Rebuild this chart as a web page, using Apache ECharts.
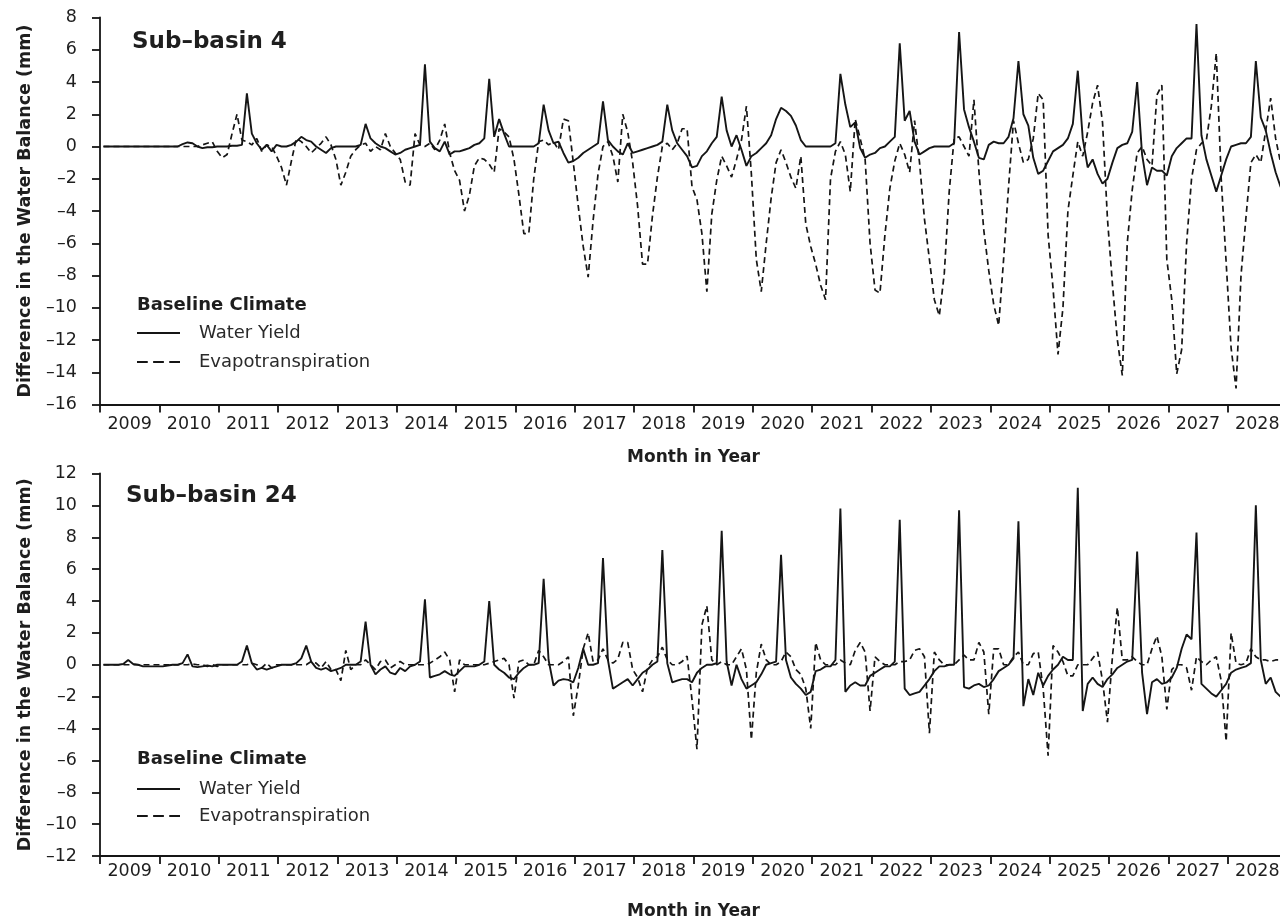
<!DOCTYPE html>
<html>
<head>
<meta charset="utf-8">
<script src="https://cdn.jsdelivr.net/npm/echarts@6.0.0/dist/echarts.min.js"></script>
<style>
    html, body { margin: 0; padding: 0; background: #fff; width: 1280px; height: 921px; overflow: hidden; }
    /* the plot runs a few pixels past the right edge, as in the source figure */
    #chart { width: 1296px; height: 921px; }
</style>
</head>
<body>
<div id="chart"></div>
<script>
// year labels on the x axis, one band of 12 months per year
const yearLabels = ['2009', '2010', '2011', '2012', '2013', '2014', '2015', '2016', '2017', '2018',
    '2019', '2020', '2021', '2022', '2023', '2024', '2025', '2026', '2027', '2028'];

// Sub-basin 4, monthly difference (mm), one row per year
const sb4WaterYield = [
    0, 0, 0, 0, 0, 0, 0, 0, 0, 0, 0, 0,
    0, 0, 0, 0, 0.15, 0.25, 0.2, 0, -0.1, -0.05, -0.05, 0,
    0, 0, 0.05, 0.05, 0.1, 3.3, 0.8, 0.2, -0.2, 0.1, -0.3, 0.1,
    0, 0, 0.1, 0.3, 0.6, 0.4, 0.3, 0, -0.2, -0.4, -0.1, 0,
    0, 0, 0, 0, 0.1, 1.4, 0.5, 0.2, 0, -0.1, -0.3, -0.5,
    -0.4, -0.2, -0.1, 0, 0.1, 5.1, 0.3, -0.1, -0.3, 0.3, -0.5, -0.3,
    -0.3, -0.2, -0.1, 0.1, 0.2, 0.5, 4.2, 0.6, 1.7, 0.8, 0, 0,
    0, 0, 0, 0, 0.2, 2.6, 1.0, 0.2, 0.3, -0.4, -1.0, -0.9,
    -0.7, -0.4, -0.2, 0, 0.2, 2.8, 0.4, 0, -0.3, -0.5, 0.2, -0.4,
    -0.3, -0.2, -0.1, 0, 0.1, 0.3, 2.6, 1.0, 0.2, -0.2, -0.6, -1.3,
    -1.2, -0.6, -0.3, 0.2, 0.6, 3.1, 1.0, 0, 0.7, -0.2, -1.2, -0.6,
    -0.4, -0.1, 0.2, 0.7, 1.7, 2.4, 2.2, 1.9, 1.3, 0.4, 0, 0,
    0, 0, 0, 0, 0.2, 4.5, 2.6, 1.2, 1.5, -0.1, -0.7, -0.5,
    -0.4, -0.1, 0, 0.3, 0.6, 6.4, 1.6, 2.2, 0.3, -0.5, -0.3, -0.1,
    0, 0, 0, 0, 0.2, 7.1, 2.3, 1.2, 0.3, -0.7, -0.8, 0.1,
    0.3, 0.2, 0.2, 0.6, 1.75, 5.3, 2.0, 1.3, -0.7, -1.7, -1.5, -0.9,
    -0.3, -0.1, 0.1, 0.5, 1.4, 4.7, 0.5, -1.3, -0.8, -1.7, -2.3, -2.0,
    -1.0, -0.1, 0.1, 0.2, 0.9, 4.0, -0.5, -2.4, -1.3, -1.5, -1.5, -1.8,
    -0.6, -0.1, 0.2, 0.5, 0.5, 7.6, 0.7, -0.8, -1.8, -2.8, -1.8, -0.8,
    0, 0.1, 0.2, 0.2, 0.6, 5.3, 1.8, 1.0, -0.4, -1.6, -2.5, -2.8
];
const sb4Evapo = [
    0, 0, 0, 0, 0, 0, 0, 0, 0, 0, 0, 0,
    0, 0, 0, 0, 0, 0, 0, 0, 0.1, 0.2, 0.3, -0.3,
    -0.7, -0.5, 0.8, 2.0, 0.4, 0.3, 0.1, 0.5, -0.3, 0.1, 0, -0.6,
    -1.3, -2.4, -0.9, 0.5, 0.3, 0, -0.4, -0.1, 0.2, 0.6, 0.1, -0.8,
    -2.4, -1.6, -0.6, -0.2, 0.1, 0.2, -0.3, 0, -0.2, 0.8, 0, -0.4,
    -0.8, -2.2, -2.4, 0.8, 0.1, 0, 0.2, -0.2, 0.4, 1.4, -0.4, -1.5,
    -2.1, -4.0, -3.0, -1.2, -0.7, -0.8, -1.1, -1.6, 1.1, 0.9, 0.6, -0.8,
    -3.0, -5.4, -5.4, -2.0, 0.3, 0.4, 0.1, 0.3, -0.2, 1.7, 1.6, -1.0,
    -3.7, -6.2, -8.1, -4.6, -1.7, 0, 0.3, -0.6, -2.2, 2.0, 0.9, -1.0,
    -3.7, -7.3, -7.3, -4.3, -1.9, 0, 0.2, -0.2, 0.2, 1.1, 1.1, -2.5,
    -3.3, -5.4, -9.0, -4.2, -2.1, -0.6, -1.2, -1.9, -0.8, 0.4, 2.5, -1.7,
    -7.0, -9.0, -6.0, -3.2, -1.0, -0.2, -1.0, -1.9, -2.6, -0.6, -4.8, -6.2,
    -7.3, -8.6, -9.5, -2.0, -0.3, 0.3, -0.5, -2.8, 1.7, 0.5, -0.8, -6.0,
    -8.9, -9.1, -5.5, -2.6, -0.9, 0.2, -0.5, -1.6, 1.6, -1.0, -4.5, -7.0,
    -9.5, -10.5, -7.9, -2.8, 0.5, 0.6, 0, -0.6, 2.9, -1.5, -5.2, -7.7,
    -9.8, -11.1, -7.0, -2.5, 1.6, 0.2, -1.0, -0.8, 0.5, 3.3, 2.9, -5.5,
    -8.8, -12.9, -10.0, -4.0, -1.8, 0.3, -0.6, 0.9, 2.7, 3.8, 1.5, -4.5,
    -8.5, -12.0, -14.2, -6.0, -2.7, -0.4, 0, -0.8, -1.2, 3.2, 3.8, -7.0,
    -9.5, -14.1, -12.6, -6.0, -2.0, -0.2, 0.2, 0.4, 2.5, 5.8, -2.0, -7.2,
    -12.5, -15.0, -8.0, -4.4, -1.0, -0.5, -1.0, 1.0, 3.0, 0.5, -1.0, -1.0
];

// Sub-basin 24, monthly difference (mm), one row per year
const sb24WaterYield = [
    0, 0, 0, 0, 0.05, 0.3, 0.05, 0, -0.1, -0.1, -0.1, -0.1,
    -0.1, -0.05, 0, 0, 0.1, 0.65, -0.1, -0.15, -0.1, -0.05, -0.1, 0,
    0, 0, 0, 0, 0.2, 1.2, 0.1, -0.3, -0.2, -0.3, -0.2, -0.1,
    0, 0, 0, 0.1, 0.4, 1.2, 0.2, -0.2, -0.3, -0.2, -0.4, -0.3,
    -0.2, 0, 0, 0, 0.2, 2.7, 0, -0.6, -0.3, -0.1, -0.5, -0.6,
    -0.2, -0.4, -0.1, 0, 0.2, 4.1, -0.8, -0.7, -0.6, -0.4, -0.6, -0.7,
    -0.4, -0.1, -0.1, -0.1, 0, 0.2, 4.0, 0, -0.3, -0.5, -0.8, -0.9,
    -0.5, -0.2, 0, 0, 0.1, 5.4, 0.3, -1.3, -1.0, -0.9, -0.95, -1.1,
    -0.2, 1.0, 0, 0, 0.1, 6.7, 0.3, -1.5, -1.3, -1.1, -0.9, -1.3,
    -0.9, -0.5, -0.3, 0, 0.2, 7.2, 0.1, -1.1, -1.0, -0.9, -0.9, -1.1,
    -0.5, -0.2, 0, 0, 0.1, 8.4, 0.2, -1.3, 0, -0.9, -1.5, -1.3,
    -1.1, -0.6, 0, 0.1, 0.2, 6.9, 0.3, -0.8, -1.2, -1.5, -1.9, -1.7,
    -0.4, -0.3, -0.1, -0.1, 0.3, 9.8, -1.7, -1.3, -1.1, -1.3, -1.3, -0.7,
    -0.5, -0.3, -0.1, -0.1, 0.2, 9.1, -1.5, -1.9, -1.8, -1.7, -1.3, -0.9,
    -0.4, -0.1, -0.1, 0, 0, 9.7, -1.4, -1.5, -1.3, -1.2, -1.4, -1.3,
    -0.9, -0.4, -0.2, 0, 0.4, 9.0, -2.6, -0.9, -1.9, -0.5, -1.3, -0.7,
    -0.3, 0, 0.5, 0.3, 0.3, 11.1, -2.9, -1.2, -0.8, -1.2, -1.4, -0.9,
    -0.6, -0.2, 0, 0.2, 0.3, 7.1, -0.5, -3.1, -1.1, -0.9, -1.2, -1.1,
    -0.8, -0.2, 1.0, 1.9, 1.6, 8.3, -1.2, -1.5, -1.8, -2.0, -1.6, -1.2,
    -0.5, -0.3, -0.2, -0.1, 0.1, 10.0, 0.3, -1.2, -0.8, -1.7, -2.0, -2.2
];
const sb24Evapo = [
    0, 0, 0, 0, 0, 0, 0, 0, 0, 0, 0, 0,
    0, 0, 0, 0, 0, 0, 0.05, 0, 0, -0.1, 0, -0.1,
    0, 0, 0, 0, 0, 0, 0.1, 0, -0.2, 0.1, -0.2, 0,
    0, 0, 0, 0, 0, 0, 0.2, 0.1, -0.2, 0.2, -0.3, -0.3,
    -1.0, 0.9, -0.3, 0, 0, 0.3, 0, -0.3, 0.2, 0.3, -0.2, 0,
    0.2, 0, 0, 0, 0, 0, 0.1, 0.3, 0.5, 0.8, 0.3, -1.7,
    0.3, 0, 0, 0, 0, 0, 0.1, 0.2, 0.3, 0.4, 0, -2.1,
    0.2, 0.3, 0, 0, 0.9, 0.5, 0, 0, 0, 0.2, 0.5, -3.2,
    -1.3, 1.0, 2.0, 0.2, 0.3, 1.0, 0.3, 0.1, 0.35, 1.4, 1.4, -0.3,
    -0.8, -1.7, -0.2, 0.3, 0.5, 1.1, 0.3, 0, 0, 0.2, 0.55, -2.2,
    -5.3, 2.5, 3.7, 0.3, 0, 0.2, 0, 0, 0.5, 1.0, -0.3, -4.7,
    -0.5, 1.3, 0.3, 0, 0, 0.2, 0.8, 0.5, -0.3, -0.6, -1.5, -4.0,
    1.4, 0.3, 0, 0, 0, 0.3, 0.1, 0, 0.9, 1.4, 0.8, -2.9,
    0.5, 0.2, 0, 0, 0, 0.2, 0.2, 0.3, 0.9, 1.0, 0.5, -4.3,
    0.8, 0.3, 0, 0, 0, 0.3, 0.6, 0.3, 0.3, 1.4, 0.8, -3.1,
    1.0, 1.0, 0, 0, 0.5, 0.8, 0, 0, 0.7, 0.8, -1.5, -5.7,
    1.2, 0.8, 0.2, -0.7, -0.7, 0, 0, 0, 0.4, 0.8, -1.0, -3.6,
    0.5, 3.6, 0.3, 0.3, 0.5, 0.2, 0, 0, 1.0, 1.8, 0.5, -2.8,
    -0.3, 0, 0, -0.2, -1.6, 0.5, 0.2, 0, 0.3, 0.5, -1.0, -4.8,
    2.0, 0.1, 0, 0.1, 1.0, 0.5, 0.3, 0.3, 0.2, 0.3, 0.3, 0
];

const FONT = 'DejaVu Sans';
const INK = '#151515';
const TEXT = '#1e1e1e';
const MONTH_SHIFT = 0.7; // points sit a little past the start of each month

// legend samples: a plain bar and three short dashes
const SOLID_ICON = 'path://M0,0H43V2H0Z';
const DASH_ICON = 'path://M0,0H10V2H0Z M15,0H25V2H15Z M30,0H40V2H30Z';

const tickMonths = [];
const labelMonths = [];
for (let k = 0; k <= yearLabels.length; k++) {
    tickMonths.push(k * 12);
    if (k < yearLabels.length) labelMonths.push(k * 12 + 6);
}

const toPoints = (arr) => arr.map((v, i) => [i + MONTH_SHIFT, v]);
const minus = (v) => String(v).replace('-', '\u2013');

const axisLine = { show: true, onZero: false, lineStyle: { color: INK, width: 1.8 } };
const axisTick = { show: true, length: 8, lineStyle: { color: INK, width: 1.8 } };

function makeX (gridIndex, margin, nameGap) {
    return {
        gridIndex,
        type: 'value',
        min: 0,
        max: 240,
        axisLine,
        axisTick: Object.assign({}, axisTick, { customValues: tickMonths }),
        axisLabel: {
            customValues: labelMonths,
            formatter: (v) => yearLabels[(v - 6) / 12],
            margin,
            fontFamily: FONT,
            fontSize: 17.5,
            color: TEXT
        },
        splitLine: { show: false },
        name: 'Month in Year',
        nameLocation: 'middle',
        nameGap,
        nameTextStyle: { fontFamily: FONT, fontSize: 17, fontWeight: 'bold', color: TEXT }
    };
}

function makeY (gridIndex, min, max) {
    return {
        gridIndex,
        type: 'value',
        min,
        max,
        interval: 2,
        axisLine,
        axisTick,
        axisLabel: { formatter: minus, margin: 23, fontFamily: FONT, fontSize: 17.5, color: TEXT },
        splitLine: { show: false },
        name: 'Difference in the Water Balance (mm)',
        nameLocation: 'middle',
        nameGap: 66,
        nameTextStyle: { fontFamily: FONT, fontSize: 17.5, fontWeight: 'bold', color: TEXT }
    };
}

function makeSeries (name, data, idx, dashed) {
    return {
        name,
        type: 'line',
        xAxisIndex: idx,
        yAxisIndex: idx,
        data: toPoints(data),
        symbol: 'none',
        itemStyle: { color: INK },
        lineStyle: { color: INK, width: dashed ? 1.7 : 1.9, type: dashed ? [6, 4] : 'solid' },
        z: dashed ? 2 : 3
    };
}

function makeLegend (top, itemGap) {
    return {
        data: [
            { name: 'Water Yield', icon: SOLID_ICON },
            { name: 'Evapotranspiration', icon: DASH_ICON }
        ],
        orient: 'vertical',
        left: 137,
        top,
        itemWidth: 43,
        itemHeight: 18,
        itemGap,
        padding: 0,
        selectedMode: false,
        itemStyle: { color: INK },
        textStyle: { fontFamily: FONT, fontSize: 18, color: '#2a2a2a', padding: [0, 0, 0, 14] }
    };
}

const titleStyle = (size) => ({ fontFamily: FONT, fontSize: size, fontWeight: 'bold', color: TEXT });

const chart = echarts.init(document.getElementById('chart'));
chart.setOption({
    animation: false,
    backgroundColor: '#fff',
    title: [
        { text: 'Sub\u2013basin 4', left: 132, top: 31, padding: 0, textStyle: titleStyle(23) },
        { text: 'Baseline Climate', left: 137, top: 296, padding: 0, textStyle: titleStyle(18) },
        { text: 'Sub\u2013basin 24', left: 126, top: 485, padding: 0, textStyle: titleStyle(23) },
        { text: 'Baseline Climate', left: 137, top: 750, padding: 0, textStyle: titleStyle(18) }
    ],
    legend: [makeLegend(324, 11), makeLegend(780, 9)],
    grid: [
        { left: 100, top: 17.5, width: 1187, height: 387 },
        { left: 100, top: 473.5, width: 1187, height: 384.5 }
    ],
    xAxis: [makeX(0, 11, 45), makeX(1, 6, 47)],
    yAxis: [makeY(0, -16, 8), makeY(1, -12, 12)],
    series: [
        makeSeries('Water Yield', sb4WaterYield, 0, false),
        makeSeries('Evapotranspiration', sb4Evapo, 0, true),
        makeSeries('Water Yield', sb24WaterYield, 1, false),
        makeSeries('Evapotranspiration', sb24Evapo, 1, true)
    ]
});
</script>
</body>
</html>
